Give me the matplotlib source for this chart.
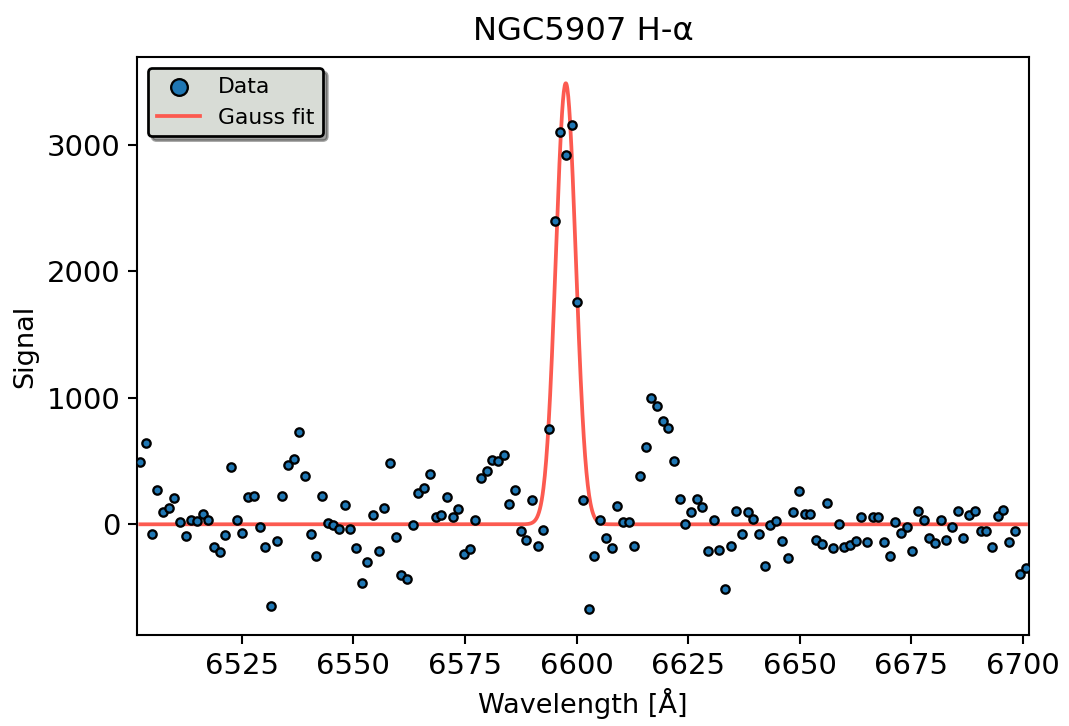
import numpy as np
import matplotlib
matplotlib.use("Agg")
import matplotlib.pyplot as plt

# Wavelength grid of the spectrum (157 evenly spaced pixels)
wave_first = 6502.23
wave_last = 6700.74
n_pix = 157

signal = [
    494, 647, -74, 272, 100, 127, 209, 16, -90, 32,
    24, 79, 37, -182, -219, -82, 451, 34, -66, 216,
    227, -18, -177, -647, -129, 227, 466, 514, 727, 385,
    -80, -247, 224, 10, -5, -38, 150, -37, -186, -467,
    -296, 74, -214, 132, 488, -103, -404, -436, -5, 245,
    285, 396, 58, 77, 219, 61, 124, -238, -193, 34,
    370, 425, 512, 502, 552, 158, 272, -53, -121, 193,
    -169, -48, 752, 2400, 3105, 2921, 3155, 1757, 190, -668,
    -253, 37, -106, -185, 143, 16, 16, -174, 383, 610,
    998, 932, 818, 758, 504, 198, 2, 100, 203, 137,
    -214, 34, -203, -512, -169, 103, -74, 95, 42, -74,
    -333, -3, 29, -135, -269, 98, 261, 84, 84, -124,
    -156, 169, -185, 3, -180, -161, -135, 58, -138, 58,
    58, -137, -251, 22, -66, -21, -209, 106, 32, -106,
    -148, 32, -121, -18, 106, -111, 74, 106, -56, -56,
    -181, 68, 112, -141, -56, -390, -342,
]

# Gaussian fit parameters
fit_amp = 3489.0
fit_center = 6597.6
fit_sigma = 2.24
fit_offset = 0.0

wavelength = np.linspace(wave_first, wave_last, n_pix)
wl_fine = np.linspace(wave_first, wave_last, 2000)
gauss = fit_offset + fit_amp * np.exp(-0.5 * ((wl_fine - fit_center) / fit_sigma) ** 2)

fig = plt.figure(figsize=(1069 / 150, 726 / 150), dpi=150)
ax = fig.add_axes([0.1282, 0.1253, 0.9629 - 0.1282, 0.9215 - 0.1253])

ax.scatter(wavelength, signal, s=16, color="#1f77b4", edgecolors="black",
           linewidths=1.1, zorder=3, label="Data")
ax.plot(wl_fine, gauss, color="#fc5a50", lw=1.8, zorder=2, label="Gauss fit")

ax.set_xlim(6501.5, 6701.5)
ax.set_xticks([6525, 6550, 6575, 6600, 6625, 6650, 6675, 6700])
ax.set_yticks([0, 1000, 2000, 3000])
ax.tick_params(labelsize=14, length=4.5, width=1.0)
for sp in ax.spines.values():
    sp.set_linewidth(1.0)

ax.set_title("NGC5907 H-α", fontsize=15.5, pad=8)
ax.set_xlabel("Wavelength [Å]", fontsize=13)
ax.set_ylabel("Signal", fontsize=13)

leg = ax.legend(loc="upper left", fontsize=10.5, markerscale=2.0, shadow=True,
                fancybox=True, framealpha=1.0, facecolor="#d8dcd6",
                edgecolor="black")
leg.get_frame().set_linewidth(1.3)

fig.savefig("out.png", dpi=150)
